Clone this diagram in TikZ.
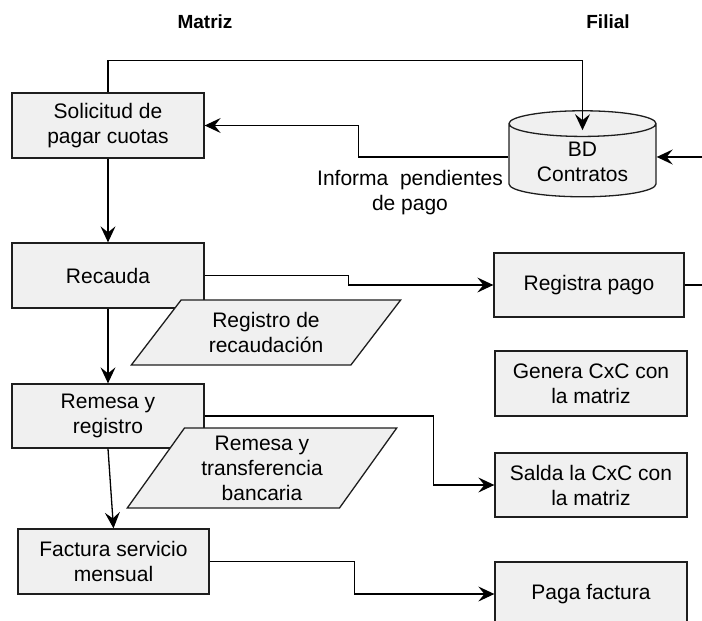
\documentclass[tikz,border=0pt]{standalone}
\usepackage{fontspec}
\setmainfont{Liberation Sans}
\usetikzlibrary{arrows.meta,shapes.geometric}

\definecolor{relleno}{RGB}{240,240,240}
\definecolor{borde}{RGB}{30,30,30}

\begin{document}
\begin{tikzpicture}[x=1pt, y=-1pt,
      texto/.style={font=\fontsize{21}{25}\selectfont, align=center},
      proceso/.style={texto, draw=borde, fill=relleno, line width=1.3pt,
        minimum width=192pt, minimum height=65pt, inner sep=2pt},
      datos/.style={texto, trapezium, trapezium stretches=true, draw=borde,
        fill=relleno, line width=1.3pt, inner sep=2pt},
      bdatos/.style={texto, cylinder, shape border rotate=90, aspect=0.27,
        draw=borde, fill=relleno, line width=1.3pt,
        minimum width=147pt, minimum height=86pt, inner sep=2pt},
      titulo/.style={font=\fontsize{19}{22}\bfseries\selectfont},
      flecha/.style={draw=black, line width=1.3pt,
        -{Stealth[length=16pt, width=15pt, inset=6pt]}}]
    \useasboundingbox (0,0) rectangle (702,621);

    \node[titulo] (matriz) at (205,21.5) {Matriz};
    \node[titulo] (filial) at (608,21.5) {Filial};

    % lado de la matriz
    \node[proceso] (solicitud) at (108,125.5) {Solicitud de\\pagar cuotas};
    \node[proceso] (recauda) at (108,275.5) {Recauda};
    \node[proceso, minimum height=64pt] (remesa) at (108,416) {Remesa y\\registro};
    \node[proceso, minimum width=191pt] (factura) at (113.5,561.5) {Factura servicio\\mensual};
    \node[datos, trapezium left angle=52, trapezium right angle=128,
        minimum width=270pt, minimum height=65pt] (registro) at (266,332.5)
        {Registro de\\recaudación};
    \node[datos, trapezium left angle=56, trapezium right angle=124,
        minimum width=270pt, minimum height=80pt] (transf) at (262,468)
        {Remesa y\\transferencia\\bancaria};

    % lado de la filial
    \node[bdatos] (bd) at (582.5,162) {BD\\Contratos};
    \node[proceso, minimum width=190pt, minimum height=64pt] (registra) at (589,285) {Registra pago};
    \node[proceso] (genera) at (591,383.5) {Genera CxC con\\la matriz};
    \node[proceso, minimum height=64pt] (salda) at (591,485) {Salda la CxC con\\la matriz};
    \node[proceso, minimum height=64pt] (paga) at (591,594) {Paga factura};

    \node[texto] (informa) at (410,193) {Informa \ pendientes\\de pago};

    \draw[flecha] (solicitud.north) -- ++(0,-32) -| ([yshift=-20pt]bd.north);
    \draw[flecha] ([yshift=5pt]bd.west) -- ++(-150,0) |- (solicitud.east);
    \draw[flecha] (registra.east) -- ++(40,0) |- ([yshift=5pt]bd.east);
    \draw[flecha] (solicitud) -- (recauda);
    \draw[flecha] (recauda.east) -- ++(144,0) |- (registra.west);
    \draw[flecha] (recauda) -- (remesa);
    \draw[flecha] (remesa.east) -- ++(229,0) |- (salda.west);
    \draw[flecha] (remesa.south) -- (factura.north);
    \draw[flecha] (factura.east) -- ++(145,0) |- (paga.west);
\end{tikzpicture}
\end{document}
